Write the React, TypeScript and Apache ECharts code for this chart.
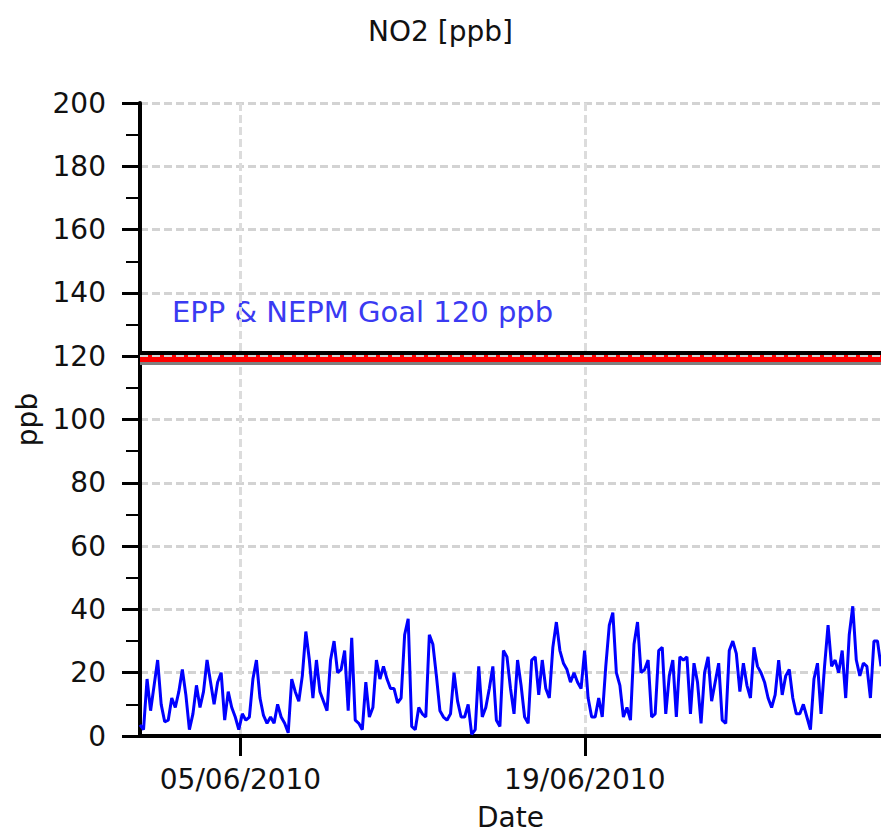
import { useEffect, useRef } from 'react';
import * as echarts from 'echarts';

const TITLE = 'NO2 [ppb]';
const Y_NAME = 'ppb';
const X_NAME = 'Date';
const GOAL_LABEL = 'EPP & NEPM Goal 120 ppb';
const GOAL = 120;
const Y_MIN = 0;
const Y_MAX = 200;
const Y_STEP = 20;
const X_START = Date.UTC(2010, 4, 31, 22);
const X_END = Date.UTC(2010, 6, 1, 1);
const X_TICKS = [Date.UTC(2010, 5, 5), Date.UTC(2010, 5, 19)];

// NO2 readings (ppb), evenly spaced in time between X_START and X_END
const no2Values = [
  3.5, 2, 18, 8, 16, 24, 10, 4.5, 5, 12, 9, 14, 21, 13, 2, 7, 16, 9, 14, 24,
  17, 10, 17, 20, 5, 14, 9, 6, 2, 7, 5, 6, 18, 24,
  12, 6.5, 4, 6, 4, 10, 6, 4, 1, 18, 14, 11, 19, 33, 24, 12, 24, 14, 11, 8,
  24, 30, 20, 21, 27, 8, 31, 5, 4, 2, 17, 6, 9, 24, 18,
  22, 18, 15, 15, 10.5, 12, 32, 37, 3, 2, 9, 7, 6, 32, 29, 19, 8, 6, 5, 7,
  20, 11, 6, 6, 10, 0.5, 2, 22, 6, 9, 15, 22, 5, 3, 27,
  25, 15, 7, 24, 16, 6, 4, 24, 25, 13, 24, 15, 12, 28, 36, 27, 23, 21, 17, 20,
  17, 15, 27, 12, 6, 6, 12, 6, 22, 35, 39, 20, 16, 6, 9, 5, 29,
  36, 20, 21, 24, 6, 7, 27, 28, 7, 19,
  24, 6, 25, 24, 25, 7, 23, 17, 4, 20,
  25, 11, 17, 23, 5, 4, 27, 30, 26, 14,
  23, 16, 12, 28, 22, 20, 17, 12, 9, 13,
  24, 13, 19, 21, 12, 7, 7, 10, 6, 2,
  18, 23, 7, 22, 35, 22, 24, 20, 27, 12,
  32, 41, 24, 19, 23, 22, 12, 30, 30, 22,
];

const FONT = 'DejaVu Sans';

function fmtDate(v: number) {
  const d = new Date(v);
  const dd = String(d.getUTCDate()).padStart(2, '0');
  const mm = String(d.getUTCMonth() + 1).padStart(2, '0');
  return `${dd}/${mm}/${d.getUTCFullYear()}`;
}

export default function App() {
  const ref = useRef<HTMLDivElement>(null);
  useEffect(() => {
    if (!ref.current) return;
    const chart = echarts.init(ref.current, null, { renderer: 'svg' });
    const step = (X_END - X_START) / (no2Values.length - 1);
    const data = no2Values.map((v, i) => [X_START + i * step, v]);
    chart.setOption({
      animation: false,
      backgroundColor: '#fff',
      title: {
        text: TITLE,
        left: 'center',
        top: 12,
        textStyle: { fontSize: 28, fontWeight: 'normal', color: '#111', fontFamily: FONT },
      },
      grid: { left: 140, right: 0, top: 103, bottom: 100 },
      xAxis: {
        type: 'value',
        min: X_START,
        max: X_END,
        name: X_NAME,
        nameLocation: 'middle',
        nameGap: 67,
        nameTextStyle: { fontSize: 28, color: '#111', fontFamily: FONT },
        axisLine: { show: true, lineStyle: { color: '#000', width: 4 } },
        axisTick: { show: true, customValues: X_TICKS, length: 20, lineStyle: { color: '#000', width: 3 } },
        axisLabel: {
          customValues: X_TICKS,
          formatter: (v: number) => fmtDate(v),
          margin: 29,
          fontSize: 28,
          color: '#111',
          fontFamily: FONT,
        },
        splitLine: { show: true, lineStyle: { type: [8, 4], color: '#dcdcdc', width: 3 } },
      },
      yAxis: {
        type: 'value',
        min: Y_MIN,
        max: Y_MAX,
        interval: Y_STEP,
        name: Y_NAME,
        nameLocation: 'middle',
        nameGap: 97,
        nameTextStyle: { fontSize: 28, color: '#111', fontFamily: FONT },
        axisLine: { show: true, lineStyle: { color: '#000', width: 4 } },
        axisTick: { show: true, length: 18, lineStyle: { color: '#000', width: 3 } },
        minorTick: { show: true, splitNumber: 2, length: 14, lineStyle: { color: '#000', width: 2 } },
        axisLabel: { margin: 34, fontSize: 28, color: '#111', fontFamily: FONT },
        splitLine: { show: true, lineStyle: { type: [8, 4], color: '#d3d3d3', width: 3 } },
      },
      graphic: [
        {
          type: 'text',
          left: 172,
          top: 297,
          style: { text: GOAL_LABEL, fontSize: 29, fill: '#3a3af2', fontFamily: FONT },
        },
      ],
      series: [
        {
          type: 'line',
          data,
          showSymbol: false,
          lineStyle: { color: '#0000ff', width: 3 },
          markLine: {
            silent: true,
            symbol: 'none',
            label: { show: false },
            data: [
              { yAxis: GOAL - 2.3, lineStyle: { color: '#808080', width: 3, type: 'solid' } },
              { yAxis: GOAL - 0.7, lineStyle: { color: '#ff0000', width: 7, type: 'solid' } },
              { yAxis: GOAL + 1, lineStyle: { color: '#000', width: 4, type: 'solid' } },
              { yAxis: GOAL, lineStyle: { color: '#d3d3d3', width: 2, type: [8, 4] } },
            ],
          },
        },
      ],
    });
    return () => chart.dispose();
  }, []);
  return <div ref={ref} style={{ position: 'absolute', left: 0, top: 0, width: 881, height: 836 }} />;
}
